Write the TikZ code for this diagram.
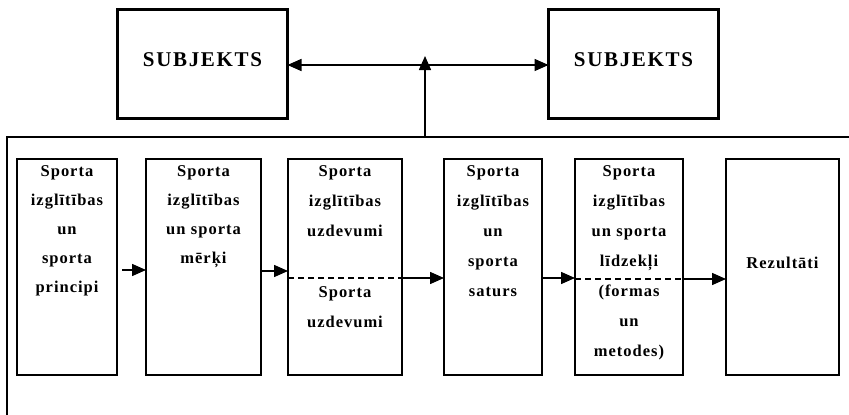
\documentclass[tikz,border=0pt]{standalone}
\usepackage{fontspec}
\usetikzlibrary{arrows.meta}
\newfontfamily\boxfont{Liberation Serif}[LetterSpace=6]
\newfontfamily\headfont{Liberation Serif}[LetterSpace=8]
\begin{document}
\begin{tikzpicture}[x=1pt,y=-1pt,
  subjbox/.style={draw,line width=2.8pt,minimum width=170pt,minimum height=109pt,outer sep=0pt,inner sep=0pt},
  cell/.style={draw,line width=1.2pt,minimum height=216pt,outer sep=0pt,inner sep=0pt},
  headtxt/.style={anchor=base,inner sep=0pt,font=\headfont\bfseries\fontsize{21}{24}\selectfont},
  celltxt/.style={anchor=base,inner sep=0pt,align=center,font=\boxfont\bfseries\fontsize{16.5}{30}\selectfont},
  arr/.style={line width=1.5pt,-{Triangle[length=14pt,width=12pt]}},
  arrboth/.style={line width=1.5pt,{Triangle[length=14pt,width=12pt]}-{Triangle[length=14pt,width=12pt]}},
  frameline/.style={line width=1.6pt},
  dashline/.style={line width=1.2pt,dash pattern=on 6pt off 4pt}]
\useasboundingbox (0,0) rectangle (849,415);

% upper level: the two subjects
\node[subjbox] (sA) at (202.5,64) {};
\node[subjbox] (sB) at (633.5,64) {};
\node[headtxt] (sAt) at (202.5,66) {SUBJEKTS};
\node[headtxt] (sBt) at (633.5,66) {SUBJEKTS};

% enclosing frame (top and left sides)
\coordinate (fTR) at (849,137);
\coordinate (fTL) at (7,137);
\coordinate (fBL) at (7,415);
\draw[frameline] (fTR) -- (fTL) -- (fBL);

% links between subjects and the frame
\coordinate (h) at (0,65);
\coordinate (fr) at (425,137);
\coordinate (tip) at (425,56);
\draw[arrboth] (sA.east |- h) -- (sB.west |- h);
\draw[arr] (fr) -- (tip);

% the chain of stages
\node[cell,minimum width=100pt] (b1) at (67,267) {};
\node[cell,minimum width=115pt] (b2) at (203.5,267) {};
\node[cell,minimum width=114pt] (b3) at (345,267) {};
\node[cell,minimum width=98pt]  (b4) at (493,267) {};
\node[cell,minimum width=108pt] (b5) at (629,267) {};
\node[cell,minimum width=113pt] (b6) at (782.5,267) {};

\node[celltxt,text width=100pt,font=\boxfont\bfseries\fontsize{16.5}{29}\selectfont] (t1) at (67,176)
  {Sporta\\izglītības\\un\\sporta\\principi};
\node[celltxt,text width=115pt,font=\boxfont\bfseries\fontsize{16.5}{29.3}\selectfont] (t2) at (203.5,176)
  {Sporta\\izglītības\\un sporta\\mērķi};
\node[celltxt,text width=114pt] (t3a) at (345,176)
  {Sporta\\izglītības\\uzdevumi};
\node[celltxt,text width=114pt] (t3b) at (345,297)
  {Sporta\\uzdevumi};
\node[celltxt,text width=98pt] (t4) at (493,176)
  {Sporta\\izglītības\\un\\sporta\\saturs};
\node[celltxt,text width=108pt] (t5) at (629,176)
  {Sporta\\izglītības\\un sporta\\līdzekļi\\(formas\\un\\metodes)};
\node[celltxt,text width=113pt] (t6) at (782.5,268)
  {Rezultāti};

% arrows along the chain
\coordinate (r1) at (0,270);
\coordinate (r2) at (0,271);
\coordinate (r3) at (0,278);
\coordinate (r5) at (0,279);
\coordinate (a1) at (122,270);
\draw[arr] (a1) -- (b2.west |- r1);
\draw[arr] (b2.east |- r2) -- (b3.west |- r2);
\draw[dashline] (b3.west |- r3) -- (b3.east |- r3);
\draw[arr] (b3.east |- r3) -- (b4.west |- r3);
\draw[arr] (b4.east |- r3) -- (b5.west |- r3);
\draw[dashline] (b5.west |- r5) -- (b5.east |- r5);
\draw[arr] (b5.east |- r5) -- (b6.west |- r5);
\end{tikzpicture}
\end{document}
